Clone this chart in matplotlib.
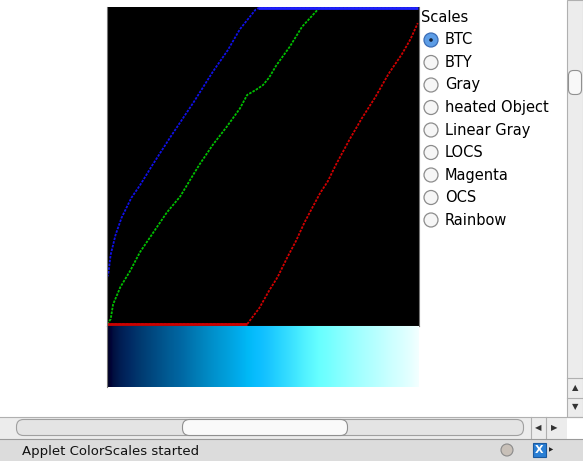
import matplotlib
matplotlib.use('Agg')
import numpy as np
import matplotlib.pyplot as plt
from matplotlib.colors import LinearSegmentedColormap
from matplotlib.patches import Rectangle, Circle, FancyBboxPatch

# BTC colour scale (index 0..255 -> value 0..255)
idx_r = [0, 115, 125, 133, 140, 148, 155, 162, 169, 175, 181, 188, 199, 209, 220, 231, 242, 249, 255]
red = [0, 0, 13, 27, 38, 54, 67, 82, 95, 106, 115, 129, 149, 166, 183, 202, 218, 230, 243]

idx_g = [0, 3, 5, 11, 19, 27, 38, 49, 60, 71, 76, 87, 98, 109, 115, 122, 128, 133, 139, 150, 160, 173, 174, 255]
green = [0, 4, 16, 30, 43, 58, 74, 90, 103, 121, 129, 145, 159, 174, 185, 189, 193, 199, 209, 224, 240, 254, 255, 255]

idx_b = [0, 1, 3, 7, 12, 20, 27, 37, 52, 71, 87, 99, 109, 122, 124, 255]
blue = [38, 40, 56, 72, 86, 102, 112, 128, 151, 179, 204, 221, 238, 254, 255, 255]

scales = ["BTC", "BTY", "Gray", "heated Object", "Linear Gray", "LOCS", "Magenta", "OCS", "Rainbow"]
selected = "BTC"
status = "Applet ColorScales started"

W, H = 583, 461
fig = plt.figure(figsize=(W / 100, H / 100), dpi=100)
fig.patch.set_facecolor('white')


def box(x0, y0, x1, y1):
    # pixel box (top-left origin) -> figure fraction
    return [x0 / W, 1 - y1 / H, (x1 - x0) / W, (y1 - y0) / H]


# ---- widget chrome in pixel coords
ui = fig.add_axes([0, 0, 1, 1])
ui.set_xlim(0, W)
ui.set_ylim(H, 0)
ui.axis('off')

# vertical scrollbar
ui.add_patch(Rectangle((567, 0), 16, 417, facecolor='#ececec', edgecolor='#b0b0b0', lw=0.8))
ui.add_patch(FancyBboxPatch((570, 72), 10, 21, boxstyle='round,pad=1.5,rounding_size=5',
                            facecolor='#f8f8f8', edgecolor='#909090', lw=0.8))
ui.plot([567, 583], [378, 378], color='#b0b0b0', lw=0.8)
ui.plot([567, 583], [398, 398], color='#b0b0b0', lw=0.8)
ui.text(575, 388, '\u25b2', fontsize=6, ha='center', va='center', color='#333333')
ui.text(575, 407, '\u25bc', fontsize=6, ha='center', va='center', color='#333333')

# horizontal scrollbar
ui.add_patch(Rectangle((0, 417), 567, 22, facecolor='#ececec', edgecolor='none'))
ui.plot([0, 583], [417, 417], color='#b0b0b0', lw=0.8)
ui.add_patch(FancyBboxPatch((18, 421), 504, 13, boxstyle='round,pad=1.5,rounding_size=7',
                            facecolor='#e4e4e4', edgecolor='#a0a0a0', lw=0.8))
ui.add_patch(FancyBboxPatch((184, 421), 162, 13, boxstyle='round,pad=1.5,rounding_size=7',
                            facecolor='#fafafa', edgecolor='#909090', lw=0.8))
ui.plot([531, 531], [417, 439], color='#b0b0b0', lw=0.8)
ui.plot([546, 546], [417, 439], color='#b0b0b0', lw=0.8)
ui.text(538, 428, '\u25c0', fontsize=6, ha='center', va='center', color='#333333')
ui.text(554, 428, '\u25b6', fontsize=6, ha='center', va='center', color='#333333')

# status bar
ui.add_patch(Rectangle((0, 439), W, 22, facecolor='#dcdcdc', edgecolor='none'))
ui.plot([0, 583], [439, 439], color='#9a9a9a', lw=0.8)
ui.text(22, 451, status, fontsize=9.5, ha='left', va='center', color='#111111')
ui.add_patch(Circle((507, 450), 6, facecolor='#c8c0b8', edgecolor='#8a8a8a', lw=0.8))
ui.add_patch(Rectangle((533, 443), 13, 14, facecolor='#2a7fd4', edgecolor='#1a5aa0', lw=0.8))
ui.text(539.5, 450, 'X', fontsize=8, fontweight='bold', ha='center', va='center', color='white')
ui.text(551, 450, '\u25b6', fontsize=4, ha='center', va='center', color='#222222')

# radio buttons
ui.text(421, 18, 'Scales', fontsize=10.5, ha='left', va='center', color='black')
for i, name in enumerate(scales):
    y = 40 + i * 22.5
    if name == selected:
        ui.add_patch(Circle((431, y), 7, facecolor='#5d9de6', edgecolor='#3b6cb5', lw=0.9))
        ui.add_patch(Circle((431, y), 1.8, facecolor='#10203a', edgecolor='none'))
    else:
        ui.add_patch(Circle((431, y), 7, facecolor='#f6f6f6', edgecolor='#8c8c8c', lw=0.9))
    ui.text(445, y, name, fontsize=10.5, ha='left', va='center', color='black')

# ---- channel curves
ax = fig.add_axes(box(107, 7, 419, 326))
ax.set_facecolor('black')
ax.set_xlim(0, 256)
ax.set_ylim(-1.5, 256)
ax.set_xticks([])
ax.set_yticks([])
for s in ax.spines.values():
    s.set_color('#777777')
    s.set_linewidth(0.8)
ax.spines['top'].set_visible(False)

ax.plot(idx_r, red, color='#d00000', lw=1.3, ls=(0, (1.4, 0.7)))
ax.plot(idx_g, green, color='#00c000', lw=1.3, ls=(0, (1.4, 0.7)))
ax.plot(idx_b, blue, color='#1010e8', lw=1.3, ls=(0, (1.4, 0.7)))
ax.plot(idx_r[:2], red[:2], color='#cc0000', lw=2, solid_capstyle='butt')
ax.plot(idx_b[-2:], blue[-2:], color='#2020ff', lw=2, solid_capstyle='butt', clip_on=False)

# ---- colour bar built from the same channel tables
seg = {
    'red': [(i / 255, v / 255, v / 255) for i, v in zip(idx_r, red)],
    'green': [(i / 255, v / 255, v / 255) for i, v in zip(idx_g, green)],
    'blue': [(i / 255, v / 255, v / 255) for i, v in zip(idx_b, blue)],
}
btc = LinearSegmentedColormap('BTC', seg, N=256)

cb = fig.add_axes(box(107, 326, 419, 387))
cb.imshow(np.arange(256)[None, :], cmap=btc, aspect='auto', extent=[0, 256, 0, 1], vmin=0, vmax=255)
cb.set_xticks([])
cb.set_yticks([])
for s in cb.spines.values():
    s.set_visible(False)
cb.spines['left'].set_visible(True)
cb.spines['left'].set_color('#777777')

fig.savefig('out.png', dpi=100)
